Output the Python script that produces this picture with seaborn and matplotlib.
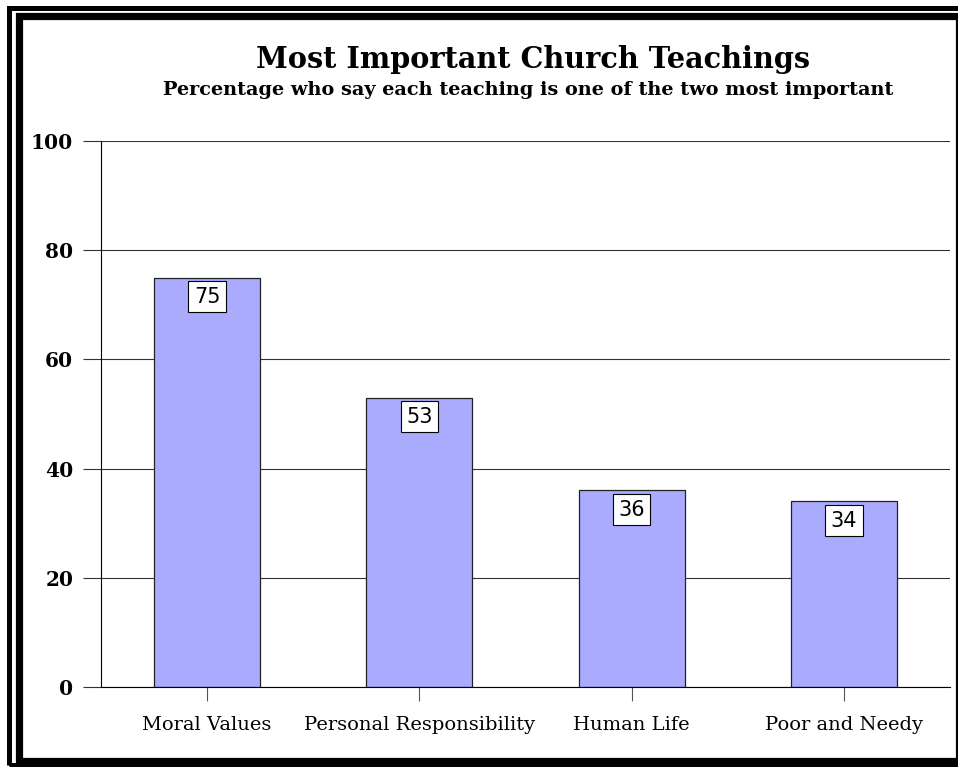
import matplotlib
matplotlib.use("Agg")
import matplotlib.pyplot as plt
import seaborn as sns
from matplotlib.patches import Rectangle

categories = ["Moral Values", "Personal Responsibility", "Human Life", "Poor and Needy"]
values = [75, 53, 36, 34]
y_ticks = [0, 20, 40, 60, 80, 100]

title = "Most Important Church Teachings"
subtitle = "Percentage who say each teaching is one of the two most important"

W, H = 958, 767
SERIF = "DejaVu Serif"


def fx(px):
    return px / W


def fy(py):
    return 1 - py / H


def main():
    sns.set_style("white")
    plt.rcParams["text.color"] = "black"
    plt.rcParams["xtick.color"] = "black"
    plt.rcParams["ytick.color"] = "black"
    fig = plt.figure(figsize=(W / 100, H / 100), dpi=100)
    ax = fig.add_axes([fx(101), fy(687), fx(950) - fx(101), fy(141) - fy(687)])

    sns.barplot(x=categories, y=values, color="#AAAAFF", saturation=1,
                edgecolor="#222222", linewidth=0.9, width=0.5, ax=ax)

    ax.set_xlim(-0.5, 3.5)
    ax.set_ylim(0, 100)
    ax.set_yticks(y_ticks)
    ax.set_yticklabels([str(v) for v in y_ticks], fontfamily=SERIF,
                       fontweight="bold", fontsize=14.5, color="black")
    ax.set_xticks(range(len(categories)))
    ax.set_xticklabels(categories, fontfamily=SERIF, fontsize=14, color="black")
    ax.set_xlabel("")
    ax.set_ylabel("")

    ax.yaxis.grid(True, color="#333333", linewidth=0.8)
    ax.set_axisbelow(True)
    for s in ["top", "right"]:
        ax.spines[s].set_visible(False)
    ax.spines["left"].set_color("black")
    ax.spines["left"].set_linewidth(0.8)
    ax.spines["bottom"].set_color("black")
    ax.spines["bottom"].set_linewidth(0.8)
    ax.tick_params(axis="y", direction="out", length=13, width=0.8,
                   color="#333333", pad=7, left=True)
    ax.tick_params(axis="x", direction="out", length=10, width=0.8,
                   color="#555555", pad=11, bottom=True)

    # value boxes just under the top of each bar
    for i, v in enumerate(values):
        ax.annotate(str(v), xy=(i, v), xytext=(0, -13.8), textcoords="offset points",
                    ha="center", va="center", fontsize=15, fontfamily="DejaVu Sans",
                    color="black",
                    bbox=dict(boxstyle="square,pad=0.26", fc="white", ec="black", lw=0.8))

    fig.text(fx(533), fy(68), title, ha="center", va="baseline", color="black",
             fontfamily=SERIF, fontweight="bold", fontsize=20.7)
    fig.text(fx(528), fy(95), subtitle, ha="center", va="baseline", color="black",
             fontfamily=SERIF, fontweight="bold", fontsize=13.9)

    # double black frame
    fig.patches.append(Rectangle((fx(9.3), fy(765)), fx(975) - fx(9.3), fy(7.5) - fy(765),
                                 transform=fig.transFigure, fill=False, ec="black",
                                 lw=3.6, zorder=10))
    fig.patches.append(Rectangle((fx(18.7), fy(760.5)), fx(958.5) - fx(18.7), fy(15.5) - fy(760.5),
                                 transform=fig.transFigure, fill=False, ec="black",
                                 lw=5.2, zorder=10))

    plt.savefig("out.png", dpi=100)
    plt.close()


if __name__ == "__main__":
    main()
